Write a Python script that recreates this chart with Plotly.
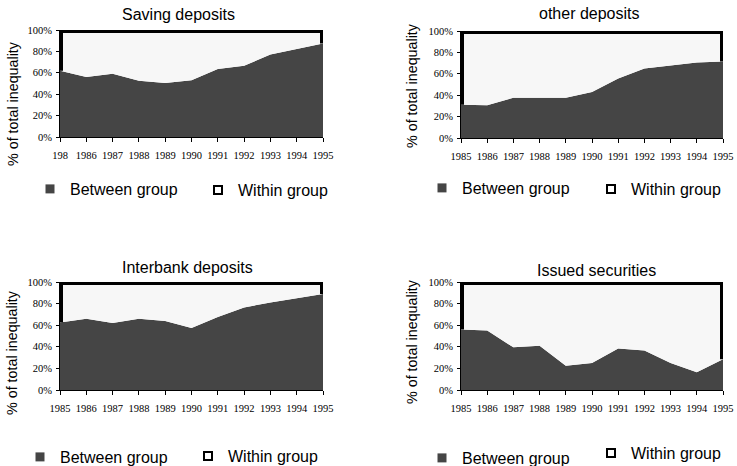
import plotly.graph_objects as go

W, H = 737, 466

# ---- data -------------------------------------------------------------
years = list(range(1985, 1996))
year_labels = [str(y) for y in years]
year_labels_saving = ["198"] + year_labels[1:]

panel_titles = ["Saving deposits", "other deposits", "Interbank deposits", "Issued securities"]

# share of total inequality explained by differences between groups (%)
saving_between = [62, 56, 59, 52.5, 50.5, 53, 63.5, 66.5, 77, 82, 87.5]
other_between = [31, 30.5, 37.7, 37.7, 37.7, 43, 55.5, 65, 67.5, 70.5, 71.5]
interbank_between = [62.5, 66, 62, 66, 64, 57.5, 67.5, 76.5, 81, 85, 89]
issued_between = [56, 55, 39.5, 41, 22.5, 25, 38.5, 36.5, 25, 16.5, 28.5]

pct_ticks = [0, 20, 40, 60, 80, 100]
pct_labels = ["0%", "20%", "40%", "60%", "80%", "100%"]

series_names = ["Between group", "Within group"]

# ---- styling ----------------------------------------------------------
DARK = "#454545"
LIGHT = "#f7f7f7"
SANS = "Liberation Sans, Arial, sans-serif"
SERIF = "Liberation Serif, Times New Roman, serif"


def px_x(p):
    return p / W


def px_y(p):
    return 1 - p / H


# plot rectangles in pixels: (left, top, right, bottom)
boxes = [(60, 30, 323, 137), (461, 31, 723, 138), (60, 282, 323, 390), (461, 282, 723, 390)]
between_sets = [saving_between, other_between, interbank_between, issued_between]
tick_sets = [year_labels_saving, year_labels, year_labels, year_labels]

title_pos = [(178, 14), (589, 13), (187, 267), (596, 270)]
ylabel_pos = [(13, 104), (412, 86), (12, 353), (412, 342)]
# legend text start (x) and vertical centre (y) for each panel's two entries
legend_pos = [
    [(70, 189), (238, 190)],
    [(462, 188), (631, 189)],
    [(60, 457), (228, 456)],
    [(462, 458), (631, 453)],
]
LEGEND_TEXT_OFFSET = 40

fig = go.Figure()
layout = dict(
    width=W, height=H, autosize=False,
    margin=dict(l=0, r=0, t=0, b=0, autoexpand=False),
    paper_bgcolor="white", plot_bgcolor="white",
    showlegend=True,
    annotations=[],
)

for i, (box, between, ticks) in enumerate(zip(boxes, between_sets, tick_sets)):
    k = "" if i == 0 else str(i + 1)
    xa, ya = "x" + k, "y" + k
    within = [100 - b for b in between]  # the two components sum to the total

    fig.add_trace(go.Scatter(
        x=years, y=between, xaxis=xa, yaxis=ya, stackgroup="s" + str(i),
        mode="lines", line=dict(width=0), fillcolor=DARK,
        name=series_names[0], showlegend=False, hoverinfo="skip"))
    fig.add_trace(go.Scatter(
        x=years, y=within, xaxis=xa, yaxis=ya, stackgroup="s" + str(i),
        mode="lines", line=dict(width=0), fillcolor=LIGHT,
        name=series_names[1], showlegend=False, hoverinfo="skip"))
    # heavy outline of the within-group band (top and both ends)
    fig.add_trace(go.Scatter(
        x=[years[0], years[0], years[-1], years[-1]],
        y=[between[0], 100, 100, between[-1]],
        xaxis=xa, yaxis=ya, mode="lines",
        line=dict(color="black", width=6), showlegend=False, hoverinfo="skip"))

    left, top, right, bottom = box
    layout["xaxis" + k] = dict(
        domain=[px_x(left), px_x(right)], anchor=ya,
        range=[years[0], years[-1]], tickvals=years, ticktext=ticks,
        showgrid=False, zeroline=False, showline=True, linecolor="black", linewidth=1,
        ticks="outside", ticklen=4, tickcolor="black", tickwidth=1,
        ticklabelstandoff=4,
        tickfont=dict(family=SERIF, size=10.5, color="black"),
    )
    layout["yaxis" + k] = dict(
        domain=[px_y(bottom), px_y(top)], anchor=xa,
        range=[0, 100], tickvals=pct_ticks, ticktext=pct_labels,
        showgrid=False, zeroline=False, showline=True, linecolor="black", linewidth=1,
        ticks="outside", ticklen=3, tickcolor="black", tickwidth=1,
        ticklabelstandoff=2,
        tickfont=dict(family=SERIF, size=10.5, color="black"),
    )

    tx, ty = title_pos[i]
    layout["annotations"].append(dict(
        text=panel_titles[i], x=px_x(tx), y=px_y(ty), xref="paper", yref="paper",
        xanchor="center", yanchor="middle", showarrow=False,
        font=dict(family=SANS, size=16, color="black")))
    lx, ly = ylabel_pos[i]
    layout["annotations"].append(dict(
        text="% of total inequality", x=px_x(lx), y=px_y(ly), xref="paper", yref="paper",
        xanchor="center", yanchor="middle", textangle=-90, showarrow=False,
        font=dict(family=SANS, size=14.3, color="black")))

    # legend entries, one small legend per entry
    markers = [
        dict(symbol="square", size=9, color=DARK, line=dict(width=0)),
        dict(symbol="square", size=8, color="white", line=dict(color="black", width=2)),
    ]
    for j in range(2):
        n = 2 + i * 2 + j
        lname = "legend" + str(n)
        fig.add_trace(go.Scatter(
            x=[None], y=[None], xaxis=xa, yaxis=ya, mode="markers",
            marker=markers[j], name=series_names[j], legend=lname, showlegend=True))
        gx, gy = legend_pos[i][j]
        layout[lname] = dict(
            x=px_x(gx - LEGEND_TEXT_OFFSET), y=px_y(gy), xanchor="left", yanchor="middle",
            bgcolor="rgba(0,0,0,0)", borderwidth=0,
            font=dict(family=SANS, size=16, color="black"),
        )

fig.update_layout(**layout)
fig.write_html("out.html")
